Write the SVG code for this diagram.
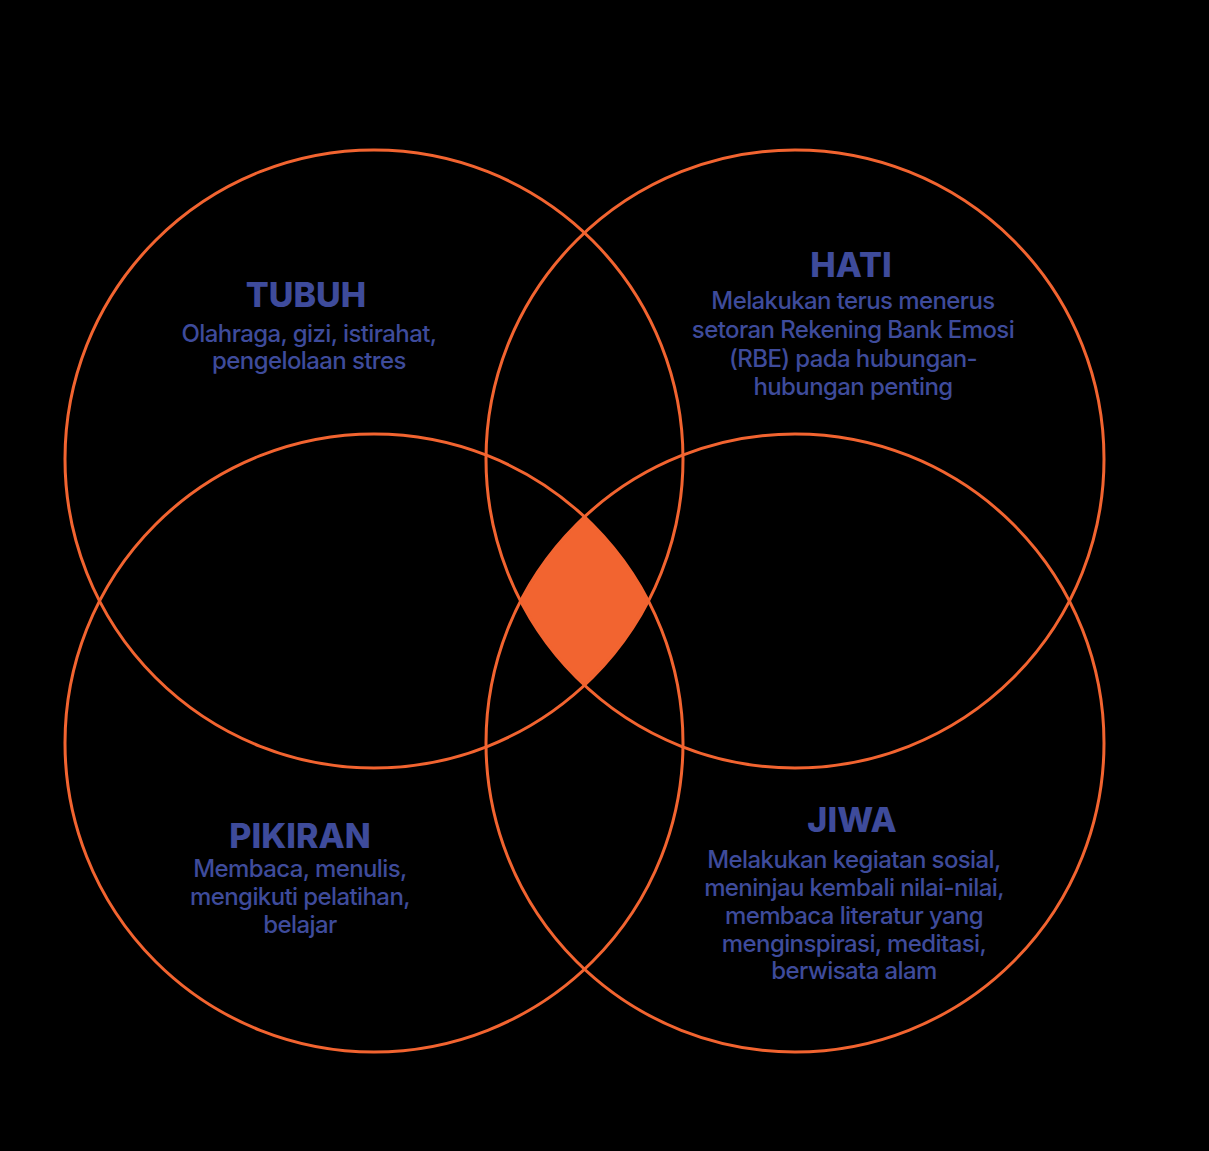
<svg xmlns="http://www.w3.org/2000/svg" width="1209" height="1151" viewBox="0 0 1209 1151">
<defs>
<style>
.ring{fill:none;stroke:#f26430;stroke-width:3}
.core{fill:#f26430}
.ttl{font-family:Inter,"Liberation Sans",sans-serif;font-weight:800;font-size:34px;fill:#3e4b9b;text-anchor:middle}
.txt{font-family:Inter,"Liberation Sans",sans-serif;font-weight:500;font-size:24px;fill:#3e4b9b;text-anchor:middle;letter-spacing:-0.6px}
</style>
</defs>
<rect width="1209" height="1151" fill="#000"/>
<g id="core">
<path class="core" d="M584.5,516.8 A309,309 0 0 1 648.4,601 A309,309 0 0 1 584.5,685.2 A309,309 0 0 1 520.6,601 A309,309 0 0 1 584.5,516.8 Z"/>
</g>
<g id="tubuh">
<circle class="ring" cx="374" cy="459" r="309"/>
<text class="ttl" x="306" y="307">TUBUH</text>
<text class="txt" x="309" y="342">Olahraga, gizi, istirahat,</text>
<text class="txt" x="309" y="369">pengelolaan stres</text>
</g>
<g id="hati">
<circle class="ring" cx="795" cy="459" r="309"/>
<text class="ttl" x="851" y="277">HATI</text>
<text class="txt" x="853" y="309">Melakukan terus menerus</text>
<text class="txt" x="853" y="338">setoran Rekening Bank Emosi</text>
<text class="txt" x="853" y="367">(RBE) pada hubungan-</text>
<text class="txt" x="853" y="395">hubungan penting</text>
</g>
<g id="pikiran">
<circle class="ring" cx="374" cy="743" r="309"/>
<text class="ttl" x="300" y="848">PIKIRAN</text>
<text class="txt" x="300" y="877">Membaca, menulis,</text>
<text class="txt" x="300" y="905">mengikuti pelatihan,</text>
<text class="txt" x="300" y="933">belajar</text>
</g>
<g id="jiwa">
<circle class="ring" cx="795" cy="743" r="309"/>
<text class="ttl" x="852" y="832">JIWA</text>
<text class="txt" x="854" y="868">Melakukan kegiatan sosial,</text>
<text class="txt" x="854" y="896">meninjau kembali nilai-nilai,</text>
<text class="txt" x="854" y="924">membaca literatur yang</text>
<text class="txt" x="854" y="952">menginspirasi, meditasi,</text>
<text class="txt" x="854" y="979">berwisata alam</text>
</g>
<g id="connectors"/>
</svg>
